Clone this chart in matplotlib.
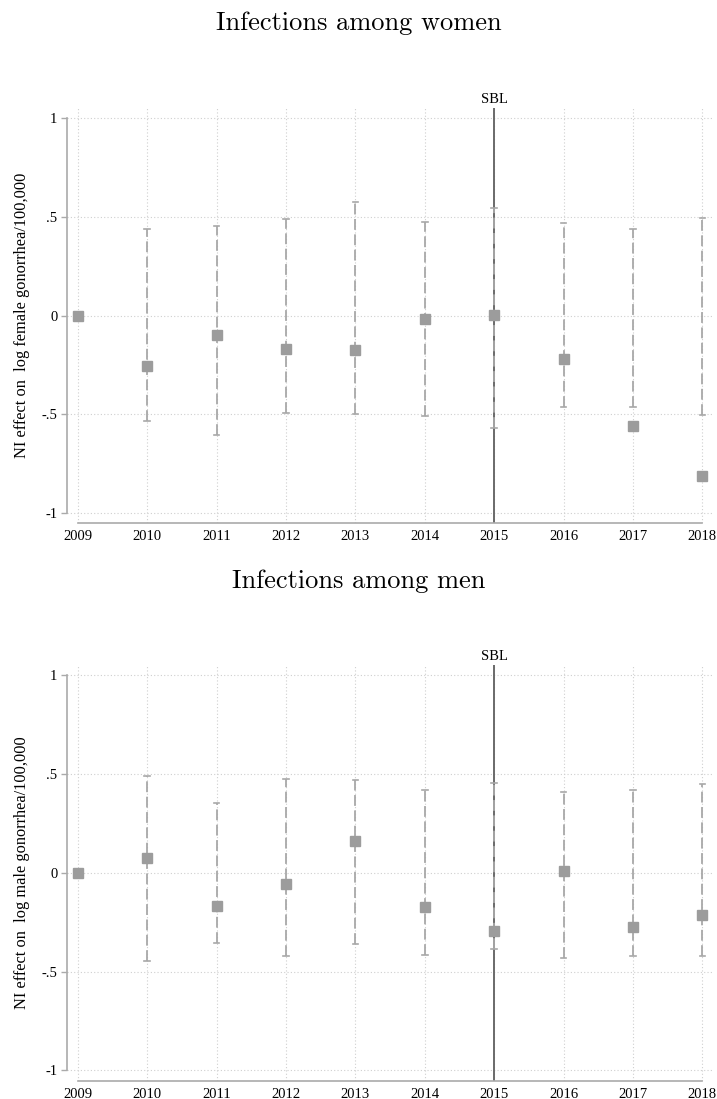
import numpy as np
import matplotlib
matplotlib.use("Agg")
import matplotlib.pyplot as plt

# %%
years = [2009, 2010, 2011, 2012, 2013, 2014, 2015, 2016, 2017, 2018]
yticks = [-1, -0.5, 0, 0.5, 1]
ytick_labels = ['-1', '-.5', '0', '.5', '1']

# women: point estimate, lower and upper CI (2009 is the reference year)
women_est = [0, -0.257, -0.100, -0.168, -0.173, -0.017, 0.003, -0.218, -0.560, -0.812]
women_lo = [np.nan, -0.535, -0.604, -0.494, -0.497, -0.508, -0.570, -0.465, -0.464, -0.505]
women_hi = [np.nan, 0.438, 0.453, 0.487, 0.575, 0.472, 0.546, 0.470, 0.438, 0.495]

# men
men_est = [0, 0.074, -0.170, -0.059, 0.163, -0.172, -0.293, 0.007, -0.276, -0.216]
men_lo = [np.nan, -0.448, -0.356, -0.421, -0.359, -0.414, -0.384, -0.429, -0.419, -0.421]
men_hi = [np.nan, 0.488, 0.354, 0.475, 0.468, 0.419, 0.453, 0.410, 0.419, 0.449]

policy_year = 2015

# %%
fig = plt.figure(figsize=(7.17, 10.99), dpi=100)
serif = 'Liberation Serif'

panels = [
    ('Infections among women', 'NI effect on  log female gonorrhea/100,000',
     women_est, women_lo, women_hi, [0.0935, 0.5241, 0.9000, 0.3776], 0.9790),
    ('Infections among men', 'NI effect on  log male gonorrhea/100,000',
     men_est, men_lo, men_hi, [0.0935, 0.0167, 0.9000, 0.3783], 0.4715),
]

for title, ylab, est, lo, hi, rect, ty in panels:
    ax = fig.add_axes(rect)
    x = np.array(years)
    est = np.array(est)
    lo = np.array(lo)
    hi = np.array(hi)

    ax.grid(True, color='#cfcfcf', linestyle=(0, (1, 2)), linewidth=0.8)
    ax.set_axisbelow(True)

    # confidence intervals as dashed bars with caps
    m = ~np.isnan(lo)
    for xi, l, h in zip(x[m], lo[m], hi[m]):
        ax.plot([xi, xi], [l, h], color='#a8a8a8', lw=1.3, ls=(0, (6, 2.5)), zorder=2)
        ax.plot([xi - 0.04, xi + 0.04], [l, l], color='#a8a8a8', lw=1.2, zorder=2)
        ax.plot([xi - 0.04, xi + 0.04], [h, h], color='#a8a8a8', lw=1.2, zorder=2)

    ax.plot(x, est, 's', color='#9c9c9c', markersize=7.5, zorder=3, linestyle='none')

    ax.axvline(policy_year, color='#6a6a6a', lw=1.4, zorder=1)
    ax.text(policy_year, 1.062, 'SBL', ha='center', va='bottom', fontsize=10.5,
            family=serif, transform=ax.transData, clip_on=False)

    ax.set_xlim(2008.846, 2018.144)
    ax.set_ylim(-1.052, 1.052)
    ax.set_xticks(years)
    ax.set_xticklabels([str(y) for y in years], family=serif, fontsize=10.5)
    ax.set_yticks(yticks)
    ax.set_yticklabels(ytick_labels, family=serif, fontsize=10.5)
    ax.tick_params(axis='x', length=0, pad=5)
    ax.tick_params(axis='y', length=4, color='#aaaaaa', width=1, pad=3)

    for s in ['top', 'right']:
        ax.spines[s].set_visible(False)
    ax.spines['left'].set_bounds(-1, 1)
    ax.spines['bottom'].set_bounds(2009, 2018)
    ax.spines['left'].set_color('#aaaaaa')
    ax.spines['bottom'].set_color('#aaaaaa')
    ax.spines['left'].set_linewidth(1.2)
    ax.spines['bottom'].set_linewidth(1.2)

    ax.set_ylabel(ylab, family=serif, fontsize=11.8, labelpad=8)
    fig.text(0.5, ty, title, ha='center', va='center', family='cmr10', fontsize=19)

fig.savefig('out.png', dpi=100)
